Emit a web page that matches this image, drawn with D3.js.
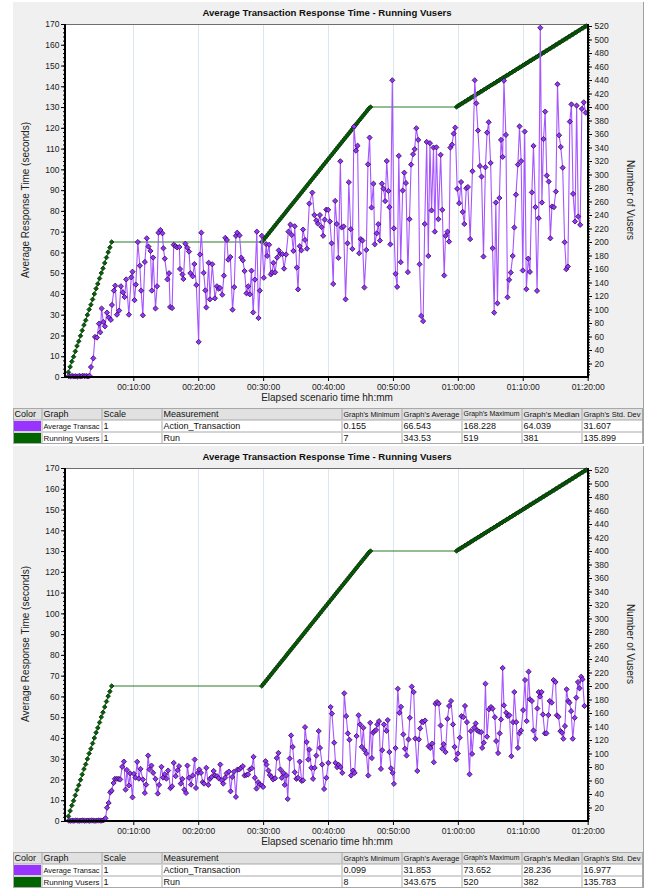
<!DOCTYPE html>
<html>
<head>
<meta charset="utf-8">
<script src="https://cdn.jsdelivr.net/npm/d3@7"></script>
<style>
  body { margin: 0; background: #ffffff; }
  svg { display: block; }
  text { font-family: "Liberation Sans", Arial, sans-serif; }
  text.cell { font-family: "Liberation Sans Narrow", "Arial Narrow", "Liberation Sans", Arial, sans-serif; }
</style>
</head>
<body>
<svg id="chart" width="653" height="892"></svg>
<script>
// ---- Axis ticks -----------------------------------------------------------
const timeTicks = [10, 20, 30, 40, 50, 60, 70, 80];              // minutes
const timeTickLabels = ["00:10:00", "00:20:00", "00:30:00", "00:40:00",
                        "00:50:00", "01:00:00", "01:10:00", "01:20:00"];
const gridMinutes = [10, 20, 30, 40, 50, 60, 70];
const rtTicks = [0, 10, 20, 30, 40, 50, 60, 70, 80, 90, 100, 110, 120, 130, 140, 150, 160, 170];
const vuserTicks = [20, 40, 60, 80, 100, 120, 140, 160, 180, 200, 220, 240, 260, 280, 300,
                    320, 340, 360, 380, 400, 420, 440, 460, 480, 500, 520];

// ---- Running Vusers: [elapsed minutes, vusers] ---------------------------
const vuserRamp1 = [[0, 7], [0.27, 15], [0.53, 23], [0.8, 30], [1.07, 38], [1.33, 46], [1.6, 53],
  [1.87, 61], [2.13, 69], [2.4, 77], [2.67, 84], [2.93, 92], [3.2, 100], [3.47, 107], [3.73, 115],
  [4.0, 123], [4.27, 131], [4.53, 138], [4.8, 146], [5.07, 154], [5.33, 161], [5.6, 169],
  [5.87, 177], [6.13, 185], [6.4, 192], [6.67, 200]];
// second and third ramps are sampled every 15 seconds
const vuserSampleMinutes = 0.25;
const vuserRamp2Start = 29.8;
const vuserRamp2 = [200, 203, 206, 209, 212, 215, 218, 221, 224, 227, 230, 233, 236, 239, 242,
  245, 248, 251, 254, 257, 260, 263, 266, 269, 272, 275, 278, 281, 284, 287, 290, 293, 296, 299,
  302, 305, 308, 311, 314, 317, 320, 323, 326, 329, 332, 335, 338, 341, 344, 347, 350, 353, 356,
  359, 362, 365, 368, 371, 374, 377, 380, 383, 386, 389, 392, 395, 398, 400];
const vuserRamp3Start = 59.8;
const vuserRamp3 = [400, 402, 403, 405, 406, 408, 409, 411, 412, 414, 415, 417, 418, 420, 421,
  423, 424, 426, 427, 429, 430, 432, 433, 435, 436, 438, 439, 441, 442, 444, 445, 447, 448, 450,
  451, 453, 454, 456, 457, 459, 460, 462, 463, 465, 466, 468, 469, 471, 472, 474, 475, 477, 478,
  480, 481, 483, 484, 486, 487, 489, 490, 492, 493, 495, 496, 498, 499, 501, 502, 504, 505, 507,
  508, 510, 511, 513, 514, 516, 517, 519, 520];

// ---- Average transaction response time (upper run): [minutes, seconds] ----
const rtUpper = [[0.05,0.4],[0.32,0.3],[0.59,0.5],[0.86,0.3],[1.13,0.4],[1.4,0.2],[1.67,0.5],
  [1.94,0.3],[2.21,0.6],[2.48,0.4],[2.75,0.5],[3.02,0.3],[3.25,0.6],
  [3.48,4.8],[3.84,9],[4.1,19.3],[4.4,19],[4.71,25.7],[4.92,21.5],[5.12,33],[5.38,26.5],[5.63,24.4],
  [5.94,31],[6.25,28.6],[6.55,27.5],[6.71,34.7],[7.01,41.6],[7.22,44],[7.48,30],[7.83,32],[8.09,43.7],
  [8.4,40.8],[8.65,38.5],[8.91,47],[9.32,30],[9.68,48],[9.88,50.7],[10.19,37],[10.39,44.5],[10.7,65],
  [11.01,53.6],[11.21,41.6],[11.47,29.7],[11.78,55.4],[12.08,66.8],[12.34,62.8],[12.65,60.7],
  [12.85,41.6],[13.06,57.5],[13.42,33],[13.67,43.7],[13.88,69.5],[14.18,70.8],[14.49,69.2],[14.64,62],
  [14.85,57],[15.26,47],[15.51,50],[15.67,33.7],[15.98,33.2],[16.23,63.7],[16.49,63],[16.74,62.4],
  [17.1,62.6],[17.2,52],[17.56,49.4],[17.72,47.2],[18.02,64.2],[18.33,62.3],[18.59,60.4],[18.79,50],
  [19.15,48.5],[19.41,54.4],[19.71,44.3],[20.07,16.9],[20.28,59],[20.48,69.5],[20.84,50.2],[21.1,41.7],
  [21.25,33.5],[21.61,55],[21.81,37.4],[22.17,54.3],[22.58,37.9],[22.89,43.7],[23.14,42.5],[23.35,42.9],
  [23.71,39.6],[23.96,48.8],[24.17,67],[24.42,66],[24.63,56.5],[24.95,57.8],[25.29,32.4],[25.55,43.3],
  [25.81,68],[26.01,69.5],[26.37,68.2],[26.63,57.5],[26.88,56.2],[27.14,51],[27.44,40.3],[27.7,43.7],
  [27.96,39.8],[28.21,51.2],[28.47,31.1],[28.73,46.9],[29.03,70],[29.29,28.4],[29.49,41.6],[29.8,68],
  [30.11,47.8],[30.47,64],[30.62,58.3],[30.93,63.7],[31.18,49.4],[31.39,50.4],[31.59,55],[31.85,50.4],
  [32.16,57.5],[32.41,61],[32.67,59.2],[32.97,59.2],[33.23,52.2],[33.54,59],[33.9,70],[34.2,73.4],
  [34.41,68.4],[34.66,60.7],[34.87,72.6],[35.18,52.7],[35.38,42.2],[35.64,63],[35.89,61],[36.15,71],
  [36.45,66],[36.76,61.8],[37.12,83.5],[37.58,88.8],[37.89,78],[38.2,75.4],[38.45,73.8],[38.75,78],
  [39.02,72.2],[39.25,68],[39.48,75.8],[39.73,80.6],
  [40.02,80.5],[40.28,74.9],[40.55,64.4],[40.8,44.8],[41.1,84.8],[41.35,73.7],[41.6,57.4],[41.9,103.9],
  [42.1,72],[42.4,72.5],[42.7,37.4],[43.0,64.4],[43.2,93.8],[43.5,71.2],[43.75,61.7],[44.0,120.6],
  [44.3,109],[44.55,111.4],[44.8,59.6],[45.05,66.4],[45.3,65.7],[45.6,43.1],[45.9,61.2],[46.15,102.4],
  [46.4,115.3],[46.7,81.6],[47.0,93.1],[47.2,63.9],[47.5,69.2],[47.75,73.6],[48.0,65.7],[48.3,93.1],
  [48.55,90.7],[48.8,84.7],[49.05,104],[49.3,89.6],[49.45,81.8],[49.6,63.9],[49.9,142.9],[50.15,71.6],
  [50.4,49.7],[50.65,43.4],[50.9,106.5],[51.2,55.3],[51.5,89.8],[51.75,98.4],[52.0,93.4],[52.3,50.5],
  [52.55,76],[52.8,102.3],[53.1,107.3],[53.35,109.7],[53.6,119.8],[53.9,114.2],[54.1,54.3],[54.35,29.4],
  [54.65,26.9],[54.9,73.7],[55.2,113.2],[55.45,58.3],[55.7,112.6],[55.95,80.2],[56.25,110.5],[56.45,70],
  [56.7,110.6],[57.0,76],[57.35,107],[57.6,80.5],[57.9,48.9],[58.1,68],[58.4,70],[58.65,65.2],
  [58.85,110.5],[59.1,111.9],[59.35,117.2],[59.6,120.1],[59.9,90.6],[60.2,83.7],[60.5,93.9],[60.75,79.5],
  [61.0,73.7],[61.3,90.9],[61.55,91.5],[61.9,66.4],[62.25,99.1],[62.6,142.9],[62.85,131.8],[63.1,118.7],
  [63.4,101.6],[63.65,96.5],[63.95,58],[64.25,101],[64.5,117.7],[64.75,122.7],[65.05,103.1],[65.35,62],
  [65.6,31],[65.85,84],[66.1,35.5],[66.4,86.2],[66.65,114.2],[66.9,106],[67.1,142.7],[67.4,116.6],
  [67.65,38.4],[67.9,46.8],[68.15,50.3],[68.45,58.3],[68.7,72],[68.95,87.8],[69.25,102.3],[69.5,120.7],
  [69.75,104],[70.0,51.3],[70.3,118.2],[70.55,42.3],[70.85,57],[71.1,50.6],[71.4,88.9],[71.65,111.3],
  [71.95,81.8],[72.2,41.5],[72.45,76.5],[72.7,168.2],[72.95,84],[73.2,114.6],[73.45,127.8],[73.7,97],
  [74.0,94.1],[74.25,66.8],[74.5,82.1],[74.8,81.8],[75.1,89.3],[75.35,141],[75.6,116.4],[75.85,110.8],
  [76.15,100.8],[76.45,64.9],[76.7,51.9],[76.95,53.2],[77.25,123],[77.5,131.3],[77.75,88.2],[78.05,74.9],
  [78.3,130.7],[78.55,77.3],[78.85,73.3],[79.1,129.1],[79.4,132.3],[79.7,127.3]];

// ---- Average transaction response time (lower run): [minutes, seconds] ----
const rtLower = [[0.05,0.2],[0.32,0.1],[0.59,0.2],[0.86,0.1],[1.13,0.3],[1.4,0.2],[1.67,0.1],
  [1.94,0.2],[2.21,0.3],[2.48,0.1],[2.75,0.2],[3.02,0.2],[3.29,0.1],[3.56,0.3],[3.83,0.2],[4.1,0.1],
  [4.37,0.2],[4.64,0.3],[4.91,0.2],[5.18,0.2],[5.45,0.4],
  [5.72,1.3],[5.95,6.4],[6.2,8.7],[6.45,13.8],[6.66,14.6],[6.96,18.3],[7.17,20.3],[7.48,20.3],
  [7.78,20.3],[7.99,20],[8.29,26.1],[8.55,28.6],[8.81,15.1],[9.01,24.6],[9.32,17.1],[9.52,22.9],
  [9.88,11.4],[10.09,22.7],[10.34,20.9],[10.6,28.5],[10.86,20.4],[11.11,25.1],[11.47,20],[11.78,13.5],
  [11.98,17.5],[12.29,31.5],[12.49,24.8],[12.8,26.7],[13.06,23.2],[13.42,20.3],[13.77,13.2],[13.98,17.4],
  [14.34,26.1],[14.59,20.9],[14.85,22.5],[15.1,20.4],[15.36,24.3],[15.72,15.8],[15.98,16.7],[16.23,28],
  [16.54,21.6],[16.85,24.5],[17.05,26.4],[17.31,18],[17.56,20.3],[17.87,15.1],[18.13,13.5],[18.33,26.7],
  [18.59,20.8],[18.89,17.5],[19.15,21.9],[19.46,29.6],[19.66,15.9],[19.97,23.2],[20.17,24.8],[20.43,23.2],
  [20.69,18.7],[20.89,18],[21.25,25.6],[21.56,17.4],[21.81,20.3],[22.07,21.2],[22.38,24.1],[22.58,21.9],
  [22.89,21.6],[23.14,20.6],[23.4,27.2],[23.6,19.6],[23.86,18],[24.17,20.9],[24.37,22.9],[24.73,23.8],
  [24.99,14.3],[25.24,21.2],[25.5,23.7],[25.81,11.6],[26.06,24.8],[26.32,24.8],[26.57,25.6],[26.88,26.4],
  [27.14,21.9],[27.44,22.2],[27.7,22.4],[27.96,24.8],[28.26,25.4],[28.52,30.9],[28.73,20.8],[28.98,15.6],
  [29.24,18.7],[29.49,17.5],[29.8,17.1],[30.01,16.4],[30.37,28.8],[30.52,27.2],[30.82,24.3],[31.03,22.2],
  [31.29,21.2],[31.54,20],[31.85,20.6],[32.1,30.3],[32.36,32.8],[32.67,24.8],[32.87,20.8],[33.13,23.2],
  [33.33,17.4],[33.59,21.9],[33.79,10.6],[34.1,30.1],[34.31,41.2],[34.56,35.7],[34.87,23.5],[35.13,20.3],
  [35.38,20.8],[35.64,28.6],[35.94,19.3],[36.15,19.6],[36.46,45.2],[36.71,38],[36.97,29.6],[37.12,34.4],
  [37.43,25.6],[37.69,20.3],[37.94,25.6],[38.2,31.5],[38.56,43.3],[38.76,35.2],
  [39.1,27.2],[39.4,15.4],[39.75,20.8],[40.05,28],[40.4,54.9],[40.6,51.7],[40.95,37.7],[41.15,28],
  [41.4,25.9],[41.65,27],[41.9,25.9],[42.2,23.2],[42.5,61.5],[42.8,50.5],[43.05,42.2],[43.3,39.1],
  [43.55,21.9],[43.85,24.3],[44.1,23.2],[44.4,40.9],[44.7,50.9],[44.95,46.5],[45.2,35.7],[45.45,44.9],
  [45.65,34.1],[45.9,32.5],[46.2,21.9],[46.5,47.3],[46.75,30.3],[46.95,42.5],[47.15,43.3],[47.4,43.8],
  [47.6,46.5],[47.85,48.1],[48.15,25.1],[48.35,34.1],[48.6,46.5],[49.0,43.4],[49.2,48.6],[49.45,33.2],
  [49.7,25.4],[49.95,23.2],[50.15,17.9],[50.4,35.1],[50.75,63.7],[51.0,52.1],[51.25,55],[51.6,41.7],
  [51.85,34.8],[52.1,31.5],[52.4,39.3],[52.6,49.7],[52.9,64.7],[53.2,62.1],[53.45,39.7],[53.75,24.1],
  [54.0,39.3],[54.2,44.6],[54.45,47.8],[54.65,47.6],[54.95,48.4],[55.5,36],[55.75,35.2],[56.05,37.3],
  [56.3,28.3],[56.55,56.5],[56.8,57.3],[57.05,56.5],[57.35,46],[57.6,34.8],[57.8,37],[58.1,33.2],
  [58.4,49.2],[58.65,55.4],[58.95,57.8],[59.25,46.5],[59.5,35.7],[59.75,29.6],[60.0,32.5],[60.3,40.1],
  [60.55,50.5],[60.85,50],[61.1,55.4],[61.4,47.6],[61.8,22.5],[62.0,43.3],[62.2,32.3],[62.5,44.9],
  [62.75,47],[63.0,43.6],[63.25,43],[63.6,42.8],[63.75,35.2],[64.0,37.7],[64.25,66.1],[64.5,40.6],
  [64.8,53.8],[65.1,54.9],[65.35,54.1],[65.7,50],[65.9,38.5],[66.2,32.7],[66.45,42.2],[66.65,48.9],
  [66.9,73.7],[67.1,55.7],[67.45,52.1],[67.7,50.5],[67.95,50.9],[68.25,31.2],[68.5,47.6],[68.7,62.1],
  [69.0,47.6],[69.25,35.2],[69.5,42.2],[69.75,43.6],[70.05,53.4],[70.35,67.9],[70.6,48.1],[70.9,71.9],
  [71.1,58.6],[71.4,57.8],[71.65,43.6],[71.95,39.6],[72.25,54.2],[72.45,62.1],[72.65,59.9],[72.9,62.1],
  [73.1,51.3],[73.4,42.2],[73.65,42.2],[73.95,51],[74.15,57.8],[74.45,57],[74.75,67.9],[75.05,66.9],
  [75.25,50.9],[75.5,50.2],[75.8,43.3],[76.05,42.5],[76.25,39.6],[76.5,45.7],[76.75,63.4],[77.0,57.8],
  [77.2,57],[77.45,52.9],[77.7,39.6],[78.0,49.7],[78.25,59.4],[78.5,66.9],[78.75,63.9],[79.0,69.5],
  [79.2,68.2],[79.5,55.4]];

// ---- Legend / statistics table --------------------------------------------
const tableHeaders = ["Color", "Graph", "Scale", "Measurement", "Graph's Minimum", "Graph's Average",
                      "Graph's Maximum", "Graph's Median", "Graph's Std. Dev"];
const seriesNames = ["Average Transac", "Running Vusers"];
const seriesScales = ["1", "1"];
const seriesMeasurements = ["Action_Transaction", "Run"];
const statsUpper = [["0.155", "66.543", "168.228", "64.039", "31.607"],
                    ["7", "343.53", "519", "381", "135.899"]];
const statsLower = [["0.099", "31.853", "73.652", "28.236", "16.977"],
                    ["8", "343.675", "520", "382", "135.783"]];

const chartTitle = "Average Transaction Response Time - Running Vusers";
const xTitle = "Elapsed scenario time hh:mm";
const yLeftTitle = "Average Response Time (seconds)";
const yRightTitle = "Number of Vusers";

// ---- Assemble the Running Vusers series -----------------------------------
const vusers = vuserRamp1
  .concat(vuserRamp2.map((v, i) => [vuserRamp2Start + i * vuserSampleMinutes, v]))
  .concat(vuserRamp3.map((v, i) => [vuserRamp3Start + i * vuserSampleMinutes, v]));

// ---- Drawing ---------------------------------------------------------------
const svg = d3.select("#chart");
const PX0 = 65, PX1 = 588, PY0 = 24, PY1 = 377;
const PURPLE = "#9933ff", GREEN = "#006400";
const diamond = r => `M0,${-r}L${r},0L0,${r}L${-r},0Z`;

function drawPanel(oy, rt, stats) {
  const g = svg.append("g").attr("transform", `translate(0,${oy})`);

  const x = d3.scaleLinear().domain([-0.52, 80.05]).range([PX0, PX1]);
  const yL = d3.scaleLinear().domain([0, 170]).range([PY1, PY0]);
  const yR = d3.scaleLinear().domain([0, 523]).range([PY1, PY0]);

  // panel background
  g.append("rect").attr("x", 13).attr("y", 2).attr("width", 630).attr("height", 406)
    .attr("fill", "#f0f0f0");
  g.append("line").attr("x1", 643.5).attr("x2", 643.5).attr("y1", 2).attr("y2", 444)
    .attr("stroke", "#a0a0a0");

  // plot area
  g.append("rect").attr("x", PX0).attr("y", PY0).attr("width", PX1 - PX0).attr("height", PY1 - PY0)
    .attr("fill", "#ffffff");
  g.append("line").attr("x1", PX0).attr("x2", PX1).attr("y1", PY0 + 0.5).attr("y2", PY0 + 0.5)
    .attr("stroke", "#6e6e6e");

  // vertical grid
  g.selectAll("line.grid").data(gridMinutes).join("line").attr("class", "grid")
    .attr("x1", d => Math.round(x(d)) + 0.5).attr("x2", d => Math.round(x(d)) + 0.5)
    .attr("y1", PY0 + 1).attr("y2", PY1)
    .attr("stroke", "#dbe6f0").attr("stroke-width", 1);

  // Running Vusers
  const lineV = d3.line().x(d => x(d[0])).y(d => yR(d[1]));
  g.append("path").datum(vusers).attr("d", lineV).attr("fill", "none")
    .attr("stroke", "#2a7d2a").attr("stroke-width", 1.1);
  g.append("g").selectAll("path").data(vusers).join("path")
    .attr("d", diamond(2.3))
    .attr("transform", d => `translate(${x(d[0])},${yR(d[1])})`)
    .attr("fill", GREEN).attr("stroke", "#0c2a0c").attr("stroke-width", 0.8);

  // Average transaction response time
  const lineR = d3.line().x(d => x(d[0])).y(d => yL(d[1]));
  g.append("path").datum(rt).attr("d", lineR).attr("fill", "none")
    .attr("stroke", "#a655ff").attr("stroke-width", 1.1);
  g.append("g").selectAll("path").data(rt).join("path")
    .attr("d", diamond(2.6))
    .attr("transform", d => `translate(${x(d[0])},${yL(d[1])})`)
    .attr("fill", PURPLE).attr("stroke", "#2a0c4a").attr("stroke-width", 0.8);

  // axes
  const styleAxis = sel => {
    sel.select(".domain").remove();
    sel.selectAll("line").attr("stroke", "#000");
    sel.selectAll("text").attr("font-size", "8.5px").attr("fill", "#1a1a1a");
  };
  g.append("g").attr("transform", `translate(${PX0},0)`)
    .call(d3.axisLeft(yL).tickValues(d3.range(0, 171, 2)).tickSize(2).tickFormat(""))
    .call(styleAxis);
  g.append("g").attr("transform", `translate(${PX0},0)`)
    .call(d3.axisLeft(yL).tickValues(rtTicks).tickSize(4).tickPadding(1.5))
    .call(styleAxis);
  g.append("g").attr("transform", `translate(${PX1},0)`)
    .call(d3.axisRight(yR).tickValues(d3.range(4, 521, 4)).tickSize(2).tickFormat(""))
    .call(styleAxis);
  g.append("g").attr("transform", `translate(${PX1},0)`)
    .call(d3.axisRight(yR).tickValues(vuserTicks).tickSize(4).tickPadding(2.5))
    .call(styleAxis);
  g.append("g").attr("transform", `translate(0,${PY1})`)
    .call(d3.axisBottom(x).tickValues(timeTicks).tickSize(4).tickPadding(3)
      .tickFormat((d, i) => timeTickLabels[i]))
    .call(styleAxis);

  // heavy axis lines
  g.append("rect").attr("x", PX0 - 1).attr("y", PY0).attr("width", 2).attr("height", PY1 - PY0 + 1).attr("fill", "#000");
  g.append("rect").attr("x", PX1 - 1).attr("y", PY0).attr("width", 2).attr("height", PY1 - PY0 + 1).attr("fill", "#000");
  g.append("rect").attr("x", PX0 - 1).attr("y", PY1 - 1).attr("width", PX1 - PX0 + 2).attr("height", 2).attr("fill", "#000");

  // titles
  g.append("text").attr("x", 327).attr("y", 13).attr("dy", "0.35em").attr("text-anchor", "middle")
    .attr("font-size", "9.6px").attr("font-weight", "bold").attr("fill", "#111").text(chartTitle);
  g.append("text").attr("x", 327).attr("y", 397).attr("dy", "0.35em").attr("text-anchor", "middle")
    .attr("font-size", "10px").attr("fill", "#222").text(xTitle);
  g.append("text").attr("transform", "translate(25,200) rotate(-90)").attr("dy", "0.35em")
    .attr("text-anchor", "middle").attr("font-size", "10px").attr("fill", "#222").text(yLeftTitle);
  g.append("text").attr("transform", "translate(630,200) rotate(90)").attr("dy", "0.35em")
    .attr("text-anchor", "middle").attr("font-size", "10px").attr("fill", "#222").text(yRightTitle);

  // statistics table
  const colX = [13, 42, 102, 162, 342, 402, 462, 522, 582, 643];
  const rowY = [408, 420, 432, 444];
  const rows = [tableHeaders].concat(stats.map((s, i) =>
    ["", seriesNames[i], seriesScales[i], seriesMeasurements[i]].concat(s)));
  rows.forEach((row, r) => {
    row.forEach((txt, c) => {
      const cx = colX[c], cw = colX[c + 1] - colX[c], cy = rowY[r], ch = rowY[r + 1] - rowY[r];
      let fill = r === 0 ? "#e1e1e1" : "#ffffff";
      if (r > 0 && c === 0) fill = r === 1 ? PURPLE : GREEN;
      g.append("rect").attr("x", cx + 0.5).attr("y", cy + 0.5).attr("width", cw - 1).attr("height", ch - 1)
        .attr("fill", fill).attr("stroke", r === 0 ? "#c4c4c4" : "#d4d4d4");
      if (txt) {
        const t = g.append("text").attr("class", "cell")
          .attr("x", cx + 1.5).attr("y", cy + ch / 2).attr("dy", "0.35em")
          .attr("font-size", "9px").attr("fill", "#111").text(txt);
        // shrink the font if a label would run into the next column
        const room = cw - 4;
        const w = t.node().getComputedTextLength();
        if (w > room) t.attr("font-size", (9 * room / w).toFixed(2) + "px");
      }
    });
  });
  g.append("rect").attr("x", 13.5).attr("y", 408.5).attr("width", 629).attr("height", 35)
    .attr("fill", "none").attr("stroke", "#a8a8a8");
}

drawPanel(0, rtUpper, statsUpper);
drawPanel(444, rtLower, statsLower);
</script>
</body>
</html>
